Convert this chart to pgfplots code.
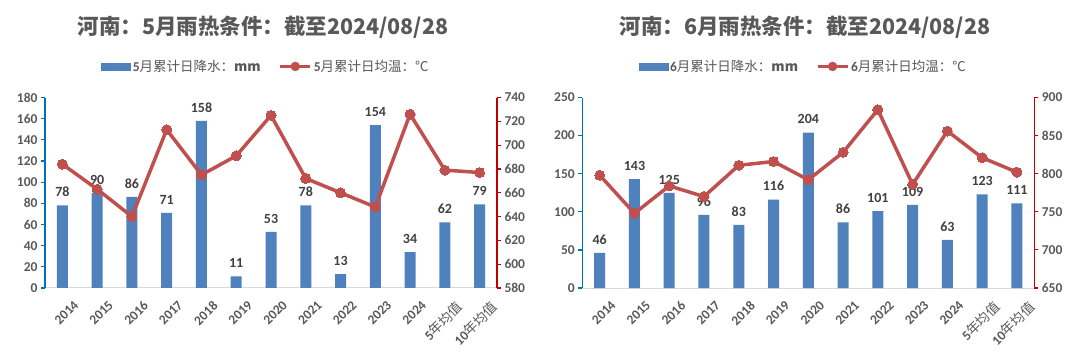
\documentclass[border=0pt]{standalone}
\usepackage{fontspec}
\setmainfont{Carlito}
\newfontfamily\cjk{Noto Sans CJK SC}
\usepackage{pgfplots}
\pgfplotsset{compat=1.18}
\definecolor{barblue}{HTML}{4F81BD}
\definecolor{linered}{HTML}{C0504D}
\definecolor{axblue}{HTML}{0070C0}
\definecolor{axred}{HTML}{C00000}
\definecolor{txtgray}{HTML}{595959}
\definecolor{labgray}{HTML}{404040}

\pgfplotsset{
  base/.style={scale only axis, width=452pt, height=190.5pt, xmin=-0.5, xmax=12.5, anchor=south west,
    /pgf/number format/assume math mode=true,
    tick label style={font=\bfseries\fontsize{13.5}{14}\selectfont, text=txtgray},
    tick align=outside, major tick length=4pt, clip=false},
  barax/.style={base, axis y line*=left, axis x line*=bottom,
    x axis line style={draw=black!15, line width=1pt, -},
    y axis line style={draw=axblue, line width=1.2pt, -},
    ytick style={draw=axblue, line width=1.2pt},
    xtick={0,...,12}, xtick style={draw=none},
    xticklabels={2014,2015,2016,2017,2018,2019,2020,2021,2022,2023,2024,{5\cjk{\mdseries 年均值}},{10\cjk{\mdseries 年均值}}},
    xticklabel style={rotate=45, anchor=north east, inner sep=1pt, yshift=-12pt, xshift=3pt},
    ybar, bar width=11pt,
    nodes near coords,
    every node near coord/.append style={font=\bfseries\fontsize{14}{14}\selectfont, text=labgray, yshift=5pt}},
  lineax/.style={base, axis y line*=right, axis x line=none,
    y axis line style={draw=axred, line width=1.2pt, -},
    ytick style={draw=axred, line width=1.2pt},
    legend style={draw=none, fill=none, legend columns=2, anchor=center,
      font=\bfseries\fontsize{13.5}{14}\selectfont, text=txtgray,
      /tikz/every even column/.append style={column sep=16pt}}},
  ser/.style={linered, line width=3.5pt, mark=*, mark size=5pt, mark options={fill=linered, draw=linered, line width=0pt}},
  barimg/.style={legend image code/.code={\fill[barblue] (0pt,-3.5pt) rectangle (29pt,3.5pt);}},
  lineimg/.style={legend image code/.code={\draw[linered, line width=3pt] (0pt,0pt) -- (30pt,0pt); \fill[linered] (15pt,0pt) circle (4.5pt);}},
}

\begin{document}
\begin{tikzpicture}
\useasboundingbox (0pt,0pt) rectangle (1080pt,362pt);

% ---------- Chart 1 ----------
\node[font=\bfseries\fontsize{21.5}{22}\selectfont, text=txtgray] at (263pt,335pt)
  {\cjk{河南：}5\cjk{月雨热条件：截至}2024/08/28};
\begin{axis}[barax, at={(45pt,74pt)}, ymin=0, ymax=180, ytick={0,20,...,180}]
\addplot[fill=barblue, draw=none] coordinates {
(0,78) (1,90) (2,86) (3,71) (4,158) (5,11) (6,53) (7,78) (8,13) (9,154) (10,34) (11,62) (12,79)};
\end{axis}
\begin{axis}[lineax, at={(45pt,74pt)}, ymin=580, ymax=740, ytick={580,600,...,740},
  legend style={at={(0.489,1.163)}},
  legend entries={5\cjk{\mdseries 月累计日降水：}mm, 5\cjk{\mdseries 月累计日均温：℃}}]
\addlegendimage{barimg}
\addlegendimage{lineimg}
\addplot[ser, forget plot] coordinates {
(0,684) (1,663) (2,640) (3,713) (4,675) (5,691) (6,725) (7,672) (8,660) (9,648) (10,726) (11,679) (12,677)};
\end{axis}

% ---------- Chart 2 ----------
\node[font=\bfseries\fontsize{21.5}{22}\selectfont, text=txtgray] at (805pt,335pt)
  {\cjk{河南：}6\cjk{月雨热条件：截至}2024/08/28};
\begin{axis}[barax, at={(582.3pt,74pt)}, ymin=0, ymax=250, ytick={0,50,...,250}]
\addplot[fill=barblue, draw=none] coordinates {
(0,46) (1,143) (2,125) (3,96) (4,83) (5,116) (6,204) (7,86) (8,101) (9,109) (10,63) (11,123) (12,111)};
\end{axis}
\begin{axis}[lineax, at={(582.3pt,74pt)}, ymin=650, ymax=900, ytick={650,700,...,900},
  legend style={at={(0.489,1.163)}},
  legend entries={6\cjk{\mdseries 月累计日降水：}mm, 6\cjk{\mdseries 月累计日均温：℃}}]
\addlegendimage{barimg}
\addlegendimage{lineimg}
\addplot[ser, forget plot] coordinates {
(0,798) (1,748) (2,784) (3,770) (4,811) (5,816) (6,792) (7,828) (8,884) (9,786) (10,856) (11,821) (12,802)};
\end{axis}
\end{tikzpicture}
\end{document}
